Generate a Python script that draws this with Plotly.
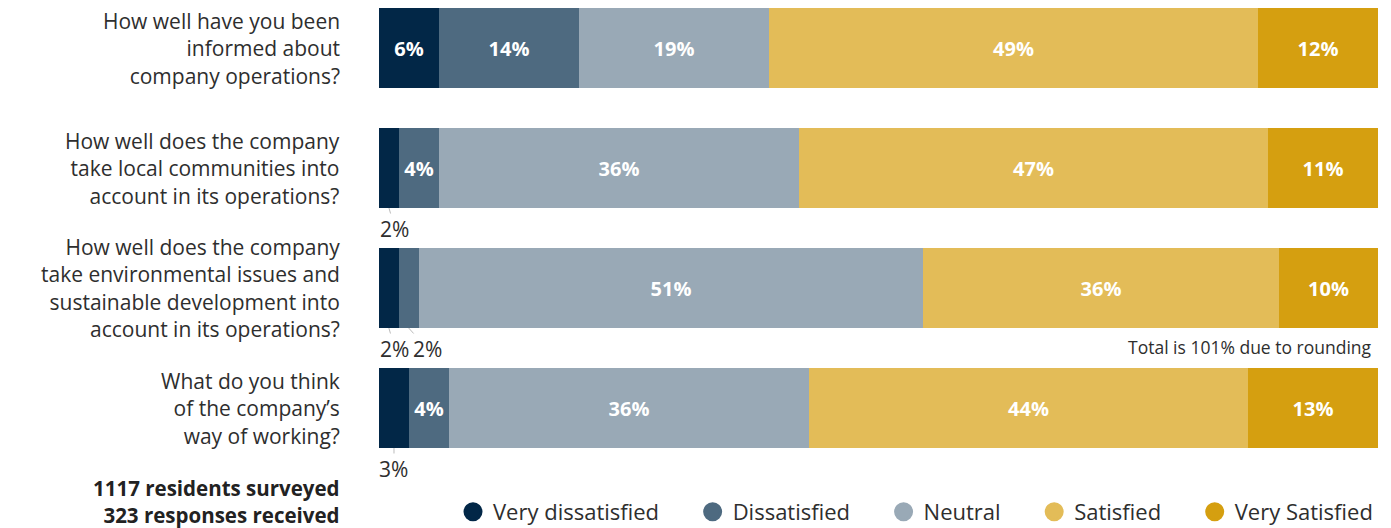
import plotly.graph_objects as go

questions = [
    "How well have you been<br>informed about<br>company operations?",
    "How well does the company<br>take local communities into<br>account in its operations?",
    "How well does the company<br>take environmental issues and<br>sustainable development into<br>account in its operations?",
    "What do you think<br>of the company’s<br>way of working?",
]
categories = ["Very dissatisfied", "Dissatisfied", "Neutral", "Satisfied", "Very Satisfied"]
colors = ["#022747", "#4e6a80", "#99a9b6", "#e3bc58", "#d59f10"]
# values per category (rows = questions)
very_dissatisfied = [6, 2, 2, 3]
dissatisfied = [14, 4, 2, 4]
neutral = [19, 36, 51, 36]
satisfied = [49, 47, 36, 44]
very_satisfied = [12, 11, 10, 13]
series = [very_dissatisfied, dissatisfied, neutral, satisfied, very_satisfied]

totals = [sum(s[i] for s in series) for i in range(len(questions))]
ypos = list(range(len(questions)))

FONT = "Open Sans"
TXT = "#2e2e2e"
PAD = "\u00a0" * 5

fig = go.Figure()
for k, (name, vals, col) in enumerate(zip(categories, series, colors)):
    shares = [v / t * 100 for v, t in zip(vals, totals)]
    fig.add_trace(go.Bar(
        y=ypos, x=shares, orientation="h", name=name,
        marker=dict(color=col, line=dict(width=0)),
        width=0.6667,
        text=[f"{v}%" if v >= 4 else "" for v in vals],
        textposition="inside", insidetextanchor="middle", textangle=0,
        textfont=dict(color="white", size=20, family=FONT, weight="bold"),
        showlegend=False, hoverinfo="skip",
    ))
    fig.add_trace(go.Scatter(
        x=[None], y=[None], mode="markers",
        name=name + (PAD if k < len(categories) - 1 else ""),
        marker=dict(color=col, size=16, symbol="circle", line=dict(color=col, width=3)),
        showlegend=True,
    ))

# question labels
for i, q in enumerate(questions):
    fig.add_annotation(x=-0.0374, y=i, xref="paper", yref="y", text=q,
                       showarrow=False, xanchor="right", yanchor="middle", align="right",
                       font=dict(size=21, family=FONT, color=TXT))

# small values labelled below the bars with leader lines
offsets = {(1, 0): 6, (2, 0): 6, (2, 1): 19, (3, 0): 0}
for (qi, si), ax in offsets.items():
    cum = sum(series[k][qi] / totals[qi] * 100 for k in range(si))
    mid = cum + series[si][qi] / totals[qi] * 100 / 2
    fig.add_annotation(x=mid, y=qi + 0.3333, xref="x", yref="y",
                       text=f"{series[si][qi]}%", showarrow=True, arrowhead=0,
                       arrowwidth=1, arrowcolor="#bbbbbb", ax=ax, ay=21,
                       font=dict(size=21, family=FONT, color=TXT))

fig.add_annotation(x=0.996, y=2.4917, xref="paper", yref="y",
                   text="Total is 101% due to rounding", showarrow=False,
                   xanchor="right", yanchor="middle",
                   font=dict(size=17.5, family=FONT, color=TXT))

fig.add_annotation(x=-0.0374, y=-0.1205, xref="paper", yref="paper",
                   text="<b>1117 residents surveyed<br>323 responses received</b>",
                   showarrow=False, xanchor="right", yanchor="middle", align="right",
                   font=dict(size=20.5, family=FONT, color="#222222"))

fig.update_layout(
    width=1383, height=520,
    margin=dict(l=371, r=13, t=0, b=80, autoexpand=False),
    paper_bgcolor="white", plot_bgcolor="white",
    barmode="stack", bargap=0,
    uniformtext=dict(minsize=20, mode="show"),
    xaxis=dict(range=[0, 100], visible=False, fixedrange=True),
    yaxis=dict(range=[3.3333, -0.3333], visible=False, fixedrange=True),
    legend=dict(orientation="h", x=1.0, xanchor="right", y=-0.1455, yanchor="middle",
                traceorder="normal",
                font=dict(size=22, family=FONT, color=TXT),
                bgcolor="rgba(0,0,0,0)", tracegroupgap=0),
    font=dict(family=FONT),
)

fig.write_html("out.html")
